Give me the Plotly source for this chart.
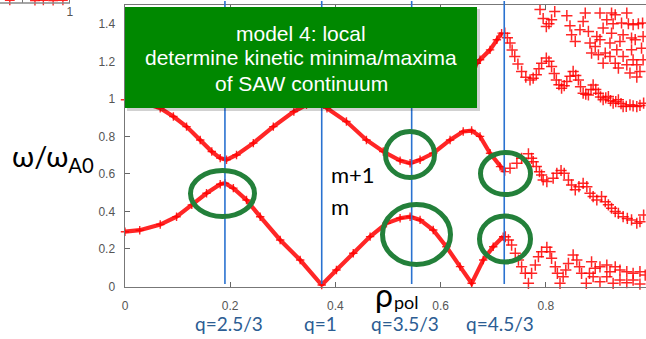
import plotly.graph_objects as go

W, H = 646, 339

# ---------------- data ----------------
# lower continuum branch "m" (dense part)
m_rho = [0.0, 0.028, 0.067, 0.098, 0.127, 0.155, 0.181, 0.19, 0.206, 0.231, 0.257, 0.295,
         0.333, 0.374, 0.402, 0.434, 0.466, 0.497, 0.523, 0.542, 0.561, 0.586, 0.611,
         0.637, 0.659, 0.681, 0.70, 0.719]
m_w = [0.292, 0.30, 0.33, 0.372, 0.435, 0.497, 0.545, 0.55, 0.524, 0.461, 0.372, 0.248,
       0.141, 0.008, 0.088, 0.177, 0.266, 0.337, 0.364, 0.372, 0.355, 0.301, 0.212,
       0.106, 0.017, 0.141, 0.212, 0.266]

# lower branch "m" (sparse crosses at the edge)
ms_rho = [0.723, 0.729, 0.735, 0.742, 0.748, 0.754, 0.761, 0.767, 0.773, 0.780, 0.786, 0.792,
          0.802, 0.808, 0.811, 0.818, 0.822, 0.827, 0.833, 0.838, 0.843, 0.852, 0.859, 0.864,
          0.868, 0.877, 0.883, 0.887, 0.894, 0.903, 0.916, 0.922, 0.932, 0.941, 0.954, 0.966,
          0.979, 0.989, 0.890, 0.903, 0.916, 0.928, 0.941, 0.954, 0.966, 0.979]
ms_w = [0.265, 0.248, 0.221, 0.177, 0.141, 0.105, 0.07, 0.017, 0.07, 0.114, 0.159, 0.185,
        0.209, 0.185, 0.15, 0.105, 0.07, 0.017, 0.052, 0.088, 0.123, 0.168, 0.141, 0.105,
        0.07, 0.017, 0.07, 0.132, 0.097, 0.105, 0.114, 0.079, 0.105, 0.088, 0.079, 0.07,
        0.079, 0.061, 0.052, 0.025, 0.052, 0.017, 0.034, 0.02, 0.034, 0.013]

# upper branch "m+1" (dense part)
m1_rho = [0.0, 0.03, 0.067, 0.092, 0.117, 0.143, 0.165, 0.181, 0.193, 0.212, 0.244, 0.282,
          0.321, 0.345, 0.374, 0.384, 0.421, 0.459, 0.491, 0.523, 0.542, 0.561, 0.586,
          0.618, 0.643, 0.659, 0.675, 0.694, 0.713, 0.722]
m1_w = [0.995, 0.985, 0.95, 0.906, 0.852, 0.781, 0.719, 0.684, 0.675, 0.701, 0.764, 0.852,
        0.932, 0.968, 0.99, 0.95, 0.879, 0.781, 0.719, 0.671, 0.657, 0.675, 0.71,
        0.781, 0.826, 0.831, 0.80, 0.71, 0.639, 0.612]

# upper branch "m+1" (sparse crosses)
m1s_rho = [0.732, 0.745, 0.754, 0.767, 0.773, 0.776, 0.782, 0.788, 0.792, 0.795, 0.802, 0.814,
           0.821, 0.829, 0.835, 0.843, 0.849, 0.856, 0.863, 0.871, 0.878, 0.884, 0.890, 0.897,
           0.906, 0.913, 0.919, 0.925, 0.932, 0.938, 0.947, 0.955, 0.963, 0.973, 0.979, 0.986]
m1s_w = [0.63, 0.657, 0.683, 0.707, 0.683, 0.665, 0.639, 0.612, 0.594, 0.568, 0.559, 0.577,
         0.603, 0.618, 0.603, 0.568, 0.541, 0.515, 0.532, 0.55, 0.532, 0.497, 0.479, 0.461,
         0.479, 0.452, 0.435, 0.417, 0.399, 0.39, 0.372, 0.363, 0.355, 0.337, 0.345, 0.381]

# third branch (dense part, mostly under the text box)
m2_rho = [0.62, 0.645, 0.669, 0.675, 0.694, 0.707, 0.716]
m2_w = [1.04, 1.12, 1.19, 1.208, 1.261, 1.315, 1.35]

# third branch (sparse crosses)
m2s_rho = [0.722, 0.727, 0.732, 0.736, 0.741, 0.747, 0.754, 0.762, 0.77, 0.776, 0.782, 0.787,
           0.792, 0.801, 0.806, 0.811, 0.816, 0.82, 0.825, 0.83, 0.835, 0.84, 0.846, 0.852,
           0.857, 0.862, 0.866, 0.871, 0.876, 0.881, 0.886, 0.89, 0.895, 0.9, 0.904, 0.909,
           0.914, 0.919, 0.923, 0.928, 0.933, 0.938, 0.943, 0.947, 0.953, 0.96, 0.966, 0.973,
           0.979, 0.986]
m2s_w = [1.35, 1.325, 1.297, 1.26, 1.226, 1.185, 1.146, 1.115, 1.101, 1.11, 1.128, 1.16,
         1.19, 1.217, 1.2, 1.172, 1.135, 1.101, 1.075, 1.057, 1.07, 1.092, 1.12, 1.146,
         1.125, 1.101, 1.065, 1.03, 1.025, 1.021, 1.05, 1.074, 1.05, 1.03, 1.01, 0.995,
         1.005, 1.012, 0.99, 0.977, 0.985, 0.995, 0.975, 0.959, 0.96, 0.968, 0.962, 0.959,
         0.965, 0.977]

# higher continuum cloud (top right)
hc_rho = [0.30, 0.495, 0.789, 0.795, 0.801, 0.806, 0.811, 0.817, 0.840, 0.846, 0.849, 0.856,
          0.865, 0.875, 0.871, 0.881, 0.884, 0.894, 0.897, 0.903, 0.909, 0.916, 0.925, 0.932,
          0.928, 0.925, 0.922, 0.913, 0.922, 0.932, 0.938, 0.935, 0.947, 0.954, 0.944, 0.957,
          0.963, 0.97, 0.966, 0.976, 0.984, 0.982, 0.966, 0.973, 0.979, 0.973, 0.954, 0.96,
          0.985, 0.985, 0.887, 0.9, 0.909, 0.903, 0.941, 0.947, 0.963]
hc_w = [1.505, 1.505, 1.476, 1.428, 1.385, 1.40, 1.421, 1.465, 1.443, 1.389, 1.341, 1.306,
        1.368, 1.457, 1.412, 1.359, 1.297, 1.279, 1.332, 1.457, 1.377, 1.421, 1.457, 1.448,
        1.40, 1.35, 1.297, 1.244, 1.226, 1.19, 1.164, 1.261, 1.341, 1.457, 1.404, 1.40,
        1.324, 1.315, 1.395, 1.40, 1.404, 1.27, 1.208, 1.181, 1.146, 1.116, 1.181, 1.137,
        1.208, 1.332, 1.244, 1.235, 1.19, 1.315, 1.306, 1.226, 1.261]

# rational surfaces
q_rho = [0.19, 0.374, 0.545, 0.721]
q_labels = ["q=2.5/3", "q=1", "q=3.5/3", "q=4.5/3"]

x_ticks = [0, 0.2, 0.4, 0.6, 0.8]
x_ticktext = ["0", "0.2", "0.4", "0.6", "0.8"]
y_ticks = [0, 0.2, 0.4, 0.6, 0.8, 1.0, 1.2, 1.4]
y_ticktext = ["0", "0.2", "0.4", "0.6", "0.8", "1", "1.2", "1.4"]

# fragment of a neighbouring plot at the top-left corner
frag_x = [0.14, 0.5, 0.62, 0.76, 0.9]
frag_y = [0.9, 0.8, 0.9, 0.8, 0.9]

box_lines = ["model 4: local", "determine kinetic minima/maxima", "of SAW continuum"]

# ---------------- styling helpers ----------------
RED = "rgba(255,0,0,0.85)"
def px_x(p):
    return p / W
def px_y(p):
    return 1 - p / H

cross = dict(symbol="cross-thin", size=8, color=RED, line=dict(color=RED, width=1.5))
small_cross = dict(symbol="cross-thin", size=6, color=RED, line=dict(color=RED, width=1.4))

fig = go.Figure()
for xs, ys in [(m_rho, m_w), (m1_rho, m1_w), (m2_rho, m2_w)]:
    fig.add_trace(go.Scatter(x=xs, y=ys, mode="lines+markers",
                             line=dict(color=RED, width=4.2), marker=small_cross,
                             cliponaxis=False, showlegend=False, hoverinfo="skip"))
for xs, ys in [(ms_rho, ms_w), (m1s_rho, m1s_w), (m2s_rho, m2s_w), (hc_rho, hc_w)]:
    fig.add_trace(go.Scatter(x=xs, y=ys, mode="markers", marker=cross,
                             cliponaxis=False, showlegend=False, hoverinfo="skip"))

fig.add_trace(go.Scatter(x=frag_x, y=frag_y, xaxis="x2", yaxis="y2", mode="markers",
                         marker=dict(symbol="cross-thin", size=7, color=RED,
                                     line=dict(color=RED, width=1.4)),
                         cliponaxis=False, showlegend=False, hoverinfo="skip"))

shapes = []
# blue vertical lines at rational surfaces
for r in q_rho:
    shapes.append(dict(type="line", xref="x", yref="paper", x0=r, x1=r,
                       y0=px_y(284), y1=px_y(1), line=dict(color="#2a72d0", width=1.6),
                       layer="above"))
# text box shadow + box
shapes.append(dict(type="rect", xref="paper", yref="paper", x0=px_x(127), x1=px_x(480),
                   y0=px_y(111), y1=px_y(9), fillcolor="rgba(0,0,0,0.18)",
                   line=dict(width=0), layer="above"))
shapes.append(dict(type="rect", xref="paper", yref="paper", x0=px_x(125), x1=px_x(477),
                   y0=px_y(108), y1=px_y(7), fillcolor="#008800",
                   line=dict(width=0), layer="above"))
# green ellipses (pixel boxes of the drawn marks)
GREEN = "#23803a"
for (a, b, c, d) in [(190.5, 254.5, 170.5, 216.5), (385.5, 434.5, 131.5, 177.5),
                     (382.5, 450.5, 204.5, 264.5), (480.5, 530.5, 152.5, 194.5),
                     (479.5, 530.5, 216, 262)]:
    shapes.append(dict(type="circle", xref="paper", yref="paper", x0=px_x(a), x1=px_x(b),
                       y0=px_y(d), y1=px_y(c), line=dict(color=GREEN, width=5),
                       layer="above"))
# top-left fragment axis line
shapes.append(dict(type="line", xref="paper", yref="paper", x0=0, x1=px_x(70),
                   y0=px_y(3), y1=px_y(3), line=dict(color="#888", width=1.5)))

annotations = []
for txt, py in zip(box_lines, [33, 58, 84]):
    annotations.append(dict(xref="paper", yref="paper", x=px_x(301), y=px_y(py),
                            text=txt, showarrow=False,
                            font=dict(family="Liberation Sans", size=21, color="white"),
                            xanchor="center", yanchor="middle"))
q_px = [229, 320, 405, 500]
for lab, p in zip(q_labels, q_px):
    annotations.append(dict(xref="paper", yref="paper", x=px_x(p), y=px_y(323), text=lab,
                            showarrow=False, font=dict(family="Lato", size=19, color="#2c5d93"),
                            xanchor="center", yanchor="middle"))
# rho_pol : big rho with a smaller lowered "pol"
annotations.append(dict(xref="paper", yref="paper", x=px_x(373), y=px_y(294),
                        text="ρ", showarrow=False,
                        font=dict(family="Lato", size=32, color="black"),
                        xanchor="left", yanchor="middle"))
annotations.append(dict(xref="paper", yref="paper", x=px_x(392), y=px_y(302),
                        text="pol", showarrow=False,
                        font=dict(family="Lato", size=18, color="black"),
                        xanchor="left", yanchor="middle"))
annotations.append(dict(xref="paper", yref="paper", x=px_x(53), y=px_y(157),
                        text="ω/ω<sub>A0</sub>", showarrow=False,
                        font=dict(family="Lato", size=29, color="black"),
                        xanchor="center", yanchor="middle"))
annotations.append(dict(xref="paper", yref="paper", x=px_x(329), y=px_y(175),
                        text="m+1", showarrow=False,
                        font=dict(family="Lato", size=22, color="black"),
                        xanchor="left", yanchor="middle"))
annotations.append(dict(xref="paper", yref="paper", x=px_x(329), y=px_y(207),
                        text="m", showarrow=False,
                        font=dict(family="Lato", size=22, color="black"),
                        xanchor="left", yanchor="middle"))

tickfont = dict(family="Liberation Sans", size=12, color="#555")
fig.update_layout(
    width=W, height=H, margin=dict(l=0, r=0, t=0, b=0, autoexpand=False),
    paper_bgcolor="white", plot_bgcolor="white",
    xaxis=dict(domain=[125 / W, 1], range=[0, 0.9905], tickvals=x_ticks, ticktext=x_ticktext,
               ticks="inside", ticklen=5, tickcolor="#666", showline=True, linecolor="#777",
               linewidth=1.5, mirror="ticks", showgrid=False, zeroline=False,
               tickfont=tickfont, ticklabelstandoff=8, automargin=False),
    yaxis=dict(domain=[(H - 286.5) / H, (H - 5) / H], range=[0, 1.5], tickvals=y_ticks,
               ticktext=y_ticktext, ticks="inside", ticklen=5, tickcolor="#666",
               showline=True, linecolor="#777", linewidth=1.5, showgrid=False,
               zeroline=False, tickfont=tickfont, ticklabelstandoff=6, automargin=False),
    xaxis2=dict(domain=[0, 72 / W], range=[0, 1.03], anchor="y2", tickvals=[0.32, 1],
                ticktext=["", "1"], ticks="inside", ticklen=4, tickcolor="#777",
                showline=False, showgrid=False, zeroline=False, tickfont=tickfont,
                automargin=False),
    yaxis2=dict(domain=[1 - 3 / H, 1], range=[0, 1], anchor="x2", visible=False,
                automargin=False),
    shapes=shapes, annotations=annotations,
)
fig.write_html("out.html", config={"displayModeBar": False, "staticPlot": True})

# remove the browser's default page margin so the figure sits at the window's corner
with open("out.html", encoding="utf-8") as f:
    page = f.read()
page = page.replace("<head>", "<head><style>html,body{margin:0;padding:0;overflow:hidden;}</style>", 1)
with open("out.html", "w", encoding="utf-8") as f:
    f.write(page)
